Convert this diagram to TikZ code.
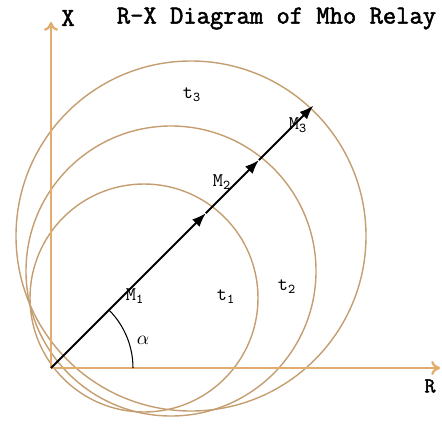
\documentclass[tikz,border=0pt]{standalone}
\usepackage{fontspec}
\newfontfamily\typefont[AutoFakeBold=2]{Latin Modern Mono}
\usetikzlibrary{arrows.meta}
\definecolor{axisorange}{RGB}{226,172,110}
\definecolor{circletan}{RGB}{196,158,112}
\tikzset{
	axis/.style={axisorange, line width=1.3pt, -{To[length=5pt,width=8pt]}},
	mho/.style={circletan, line width=0.8pt},
	vec/.style={black, line width=1.1pt, -{Latex[length=8pt,width=6pt]}},
	lbl/.style={font=\typefont\fontsize{11}{13}\selectfont},
	head/.style={font=\typefont\bfseries\fontsize{14.7}{17}\selectfont},
}
\begin{document}
\begin{tikzpicture}
		\useasboundingbox (-1.02, -1.12) rectangle (7.82, 7.36);

		\coordinate (O) at (0, 0);
		\coordinate (Xtip) at (0, 6.92);
		\coordinate (Rtip) at (7.78, 0);

		\draw[mho] (1.86, 1.40) circle (2.28);
		\draw[mho] (2.40, 1.94) circle (2.90);
		\draw[mho] (2.80, 2.64) circle (3.50);

		\draw[axis] (O) -- (Xtip);
		\draw[axis] (O) -- (Rtip);

		\node[head] (xlabel) at (0.34, 7.0) {X};
		\node[head] (title) at (4.51, 6.99) {R-X Diagram of Mho Relay};
		\node[head, font=\typefont\bfseries\fontsize{12}{14}\selectfont] (rlabel) at (7.58, -0.36) {R};

		\coordinate (A) at (45:4.38);
		\coordinate (B) at (45:5.88);
		\coordinate (C) at (45:7.42);
		\draw[vec] (O) -- (A);
		\draw[vec] (A) -- (B);
		\draw[vec] (B) -- (C);

		\draw[black, line width=0.6pt] (1.64, 0) arc (0:45:1.64);
		\node[lbl] (alpha) at (1.84, 0.56) {$\alpha$};

		\node[lbl] (m1) at (1.68, 1.44) {M\textsubscript{1}};
		\node[lbl] (m2) at (3.42, 3.72) {M\textsubscript{2}};
		\node[lbl] (m3) at (4.94, 4.86) {M\textsubscript{3}};
		\node[lbl] (t1) at (3.50, 1.42) {t\textsubscript{1}};
		\node[lbl] (t2) at (4.72, 1.62) {t\textsubscript{2}};
		\node[lbl] (t3) at (2.82, 5.46) {t\textsubscript{3}};
	\end{tikzpicture}
\end{document}
